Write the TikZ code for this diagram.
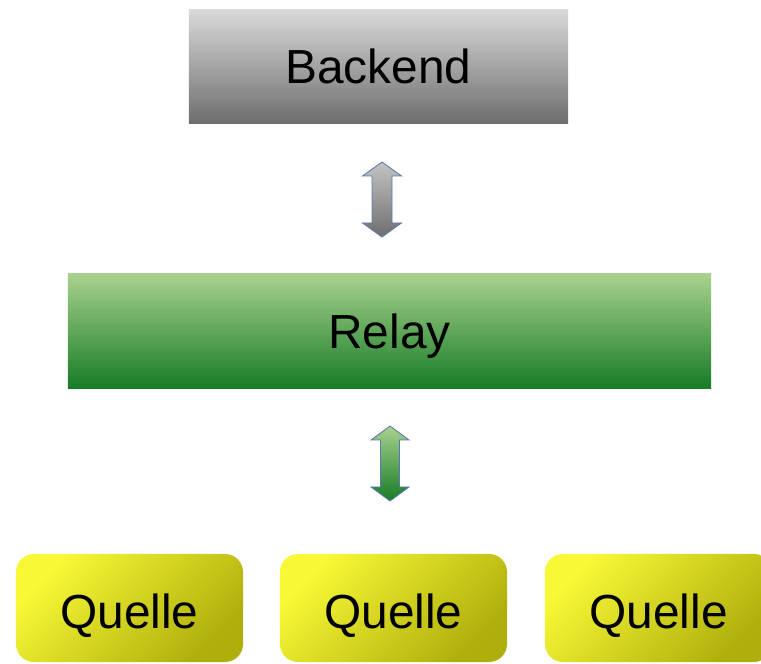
\documentclass[tikz,border=0pt]{standalone}
\usepackage{fontspec}
\setmainfont{Liberation Sans}
\usetikzlibrary{calc}

\definecolor{backtop}{HTML}{D9D9D9}
\definecolor{backbot}{HTML}{6E6E6E}
\definecolor{relaytop}{HTML}{A9D18E}
\definecolor{relaybot}{HTML}{177C27}
\definecolor{quelletop}{HTML}{F8F836}
\definecolor{quellebot}{HTML}{AEAE0C}
\definecolor{arrowline}{HTML}{5A78B4}

\begin{document}
\begin{tikzpicture}[x=0.025cm, y=0.025cm,
bignode/.style={rectangle, inner sep=0pt, text height=24.3pt, text depth=0pt, font=\fontsize{34}{40}\selectfont},
backendnode/.style={bignode, top color=backtop, bottom color=backbot, minimum width=9.475cm, minimum height=2.825cm},
relaynode/.style={bignode, top color=relaytop, bottom color=relaybot, minimum width=16.075cm, minimum height=2.85cm},
quellenode/.style={bignode, rounded corners=0.45cm, top color=quelletop, bottom color=quellebot, shading angle=45, minimum width=5.675cm, minimum height=2.7cm, text height=28.5pt},
grayarrow/.style={draw=arrowline, line width=0.6pt, top color=backtop!90!black, bottom color=backbot},
greenarrow/.style={draw=arrowline, line width=0.6pt, top color=relaytop, bottom color=relaybot},
]
\path[use as bounding box, clip] (0,0) rectangle (761,663);

%Nodes
\node[backendnode]  (backend)  at (378.5,596.5) {Backend};
\node[relaynode]    (relay)    at (389.5,332)   {Relay};
\node[quellenode]   (quelleA)  at (129.5,55)    {Quelle};
\node[quellenode]   (quelleB)  at (393.5,55)    {Quelle};
\node[quellenode]   (quelleC)  at (658.5,55)    {Quelle};

%Links
\coordinate (linkup)   at ($(backend.south)!0.5!(relay.north)+(-2,-1)$);
\coordinate (linkdown) at ($(relay.south)!0.5!(quelleB.north)+(-1.5,7.5)$);

\draw[grayarrow] (linkup) ++(0,37.5) -- ++(19.5,-14) -- ++(-9.5,0) -- ++(0,-47) -- ++(9.5,0) -- ++(-19.5,-14) -- ++(-19.5,14) -- ++(9.5,0) -- ++(0,47) -- ++(-9.5,0) -- cycle;
\draw[greenarrow] (linkdown) ++(0,37.5) -- ++(19,-14) -- ++(-9.5,0) -- ++(0,-47) -- ++(9.5,0) -- ++(-19,-14) -- ++(-19,14) -- ++(9.5,0) -- ++(0,47) -- ++(-9.5,0) -- cycle;

\end{tikzpicture}
\end{document}
